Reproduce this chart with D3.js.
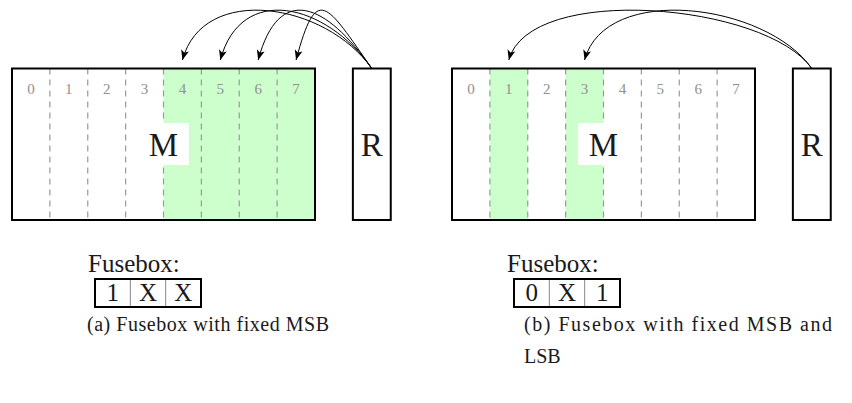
<!DOCTYPE html>
<html>
<head>
<meta charset="utf-8">
<script src="https://cdn.jsdelivr.net/npm/d3@7"></script>
<style>
  body { margin: 0; background: #fff; }
  text { font-family: "Liberation Serif", "DejaVu Serif", serif; fill: #1a1a1a; }
</style>
</head>
<body>
<script>
const width = 852
const height = 403

// données
const bits = [0, 1, 2, 3, 4, 5, 6, 7]
const panels = ['a', 'b']
const highlighted = [[4, 5, 6, 7], [1, 3]]
const fuses = [['1', 'X', 'X'], ['0', 'X', '1']]
const captions = [
    ['(a) Fusebox with fixed MSB'],
    ['(b) Fusebox with fixed MSB and', 'LSB']
]

const U = 37.875 // une case
const GREEN = '#ccffcc'

const svg = d3.select('body').append('svg')
    .attr('width', width)
    .attr('height', height)

svg.append('defs').append('marker')
    .attr('id', 'head')
    .attr('viewBox', '0 0 10 8')
    .attr('refX', 10)
    .attr('refY', 4)
    .attr('markerWidth', 11)
    .attr('markerHeight', 8)
    .attr('markerUnits', 'userSpaceOnUse')
    .attr('orient', 'auto')
    .append('path')
    .attr('d', 'M0,0 L10,4 L0,8 L2.5,4 Z')
    .attr('fill', '#000')

const panelX = d3.scaleOrdinal().domain(panels).range([12, 452])
// en bas : la fusebox et sa légende
const boxX = d3.scaleOrdinal().domain(panels).range([95, 514])
const capX = d3.scaleOrdinal().domain(panels).range([87, 524])

panels.forEach((p, pi) => {
    const x0 = panelX(p)
    const x = d3.scaleBand().domain(bits).range([x0, x0 + 8 * U])
    const yTop = 220 - 4 * U
    const g = svg.append('g')

    // cases en vert
    g.selectAll('rect.hl')
        .data(highlighted[pi])
        .enter()
        .append('rect')
        .attr('x', d => x(d))
        .attr('y', yTop)
        .attr('width', x.bandwidth())
        .attr('height', 4 * U)
        .attr('fill', GREEN)

    // traits pointillés
    g.selectAll('line.sep')
        .data(bits.slice(1))
        .enter()
        .append('line')
        .attr('x1', d => x(d))
        .attr('x2', d => x(d))
        .attr('y1', yTop)
        .attr('y2', 220)
        .attr('stroke', '#999')
        .attr('stroke-width', 1.2)
        .attr('stroke-dasharray', '6,5')

    // numéros
    g.selectAll('text.num')
        .data(bits)
        .enter()
        .append('text')
        .attr('x', d => x(d) + x.bandwidth() / 2)
        .attr('y', 94)
        .attr('text-anchor', 'middle')
        .attr('font-size', 15)
        .style('fill', '#909090')
        .text(d => d)

    // M avec fond blanc
    const mx = x0 + 4 * U
    g.append('rect')
        .attr('x', mx - 25.5)
        .attr('y', 123)
        .attr('width', 51)
        .attr('height', 42)
        .attr('fill', '#fff')
    g.append('text')
        .attr('x', mx)
        .attr('y', 156)
        .attr('text-anchor', 'middle')
        .attr('font-size', 33)
        .text('M')

    g.append('rect')
        .attr('x', x0)
        .attr('y', yTop)
        .attr('width', 8 * U)
        .attr('height', 4 * U)
        .attr('fill', 'none')
        .attr('stroke', '#000')
        .attr('stroke-width', 2)

    // R
    const rx = x0 + 9 * U
    g.append('rect')
        .attr('x', rx)
        .attr('y', yTop)
        .attr('width', U)
        .attr('height', 4 * U)
        .attr('fill', 'none')
        .attr('stroke', '#000')
        .attr('stroke-width', 2)
    g.append('text')
        .attr('x', rx + U / 2)
        .attr('y', 156)
        .attr('text-anchor', 'middle')
        .attr('font-size', 33)
        .text('R')

    // flèches
    const sx = rx + U / 2
    const sy = yTop
    const L = 80
    const a1 = 125 * Math.PI / 180
    const a2 = 75 * Math.PI / 180
    g.selectAll('path.arr')
        .data(highlighted[pi])
        .enter()
        .append('path')
        .attr('d', d => {
            const tx = x(d) + x.bandwidth() / 2
            const ty = 60
            const path = d3.path()
            path.moveTo(sx, sy)
            path.bezierCurveTo(
                sx + L * Math.cos(a1), sy - L * Math.sin(a1),
                tx + L * Math.cos(a2), ty - L * Math.sin(a2),
                tx, ty)
            return path.toString()
        })
        .attr('fill', 'none')
        .attr('stroke', '#000')
        .attr('stroke-width', 1)
        .attr('marker-end', 'url(#head)')

    // Fusebox
    const bx = boxX(p)
    const bw = 106
    g.append('text')
        .attr('x', bx - 7)
        .attr('y', 272)
        .attr('font-size', 25)
        .text('Fusebox:')

    const fy = 279
    const fh = 28
    const fx = d3.scaleBand().domain(d3.range(3)).range([bx, bx + bw])
    g.selectAll('line.fsep')
        .data([1, 2])
        .enter()
        .append('line')
        .attr('x1', d => fx(d))
        .attr('x2', d => fx(d))
        .attr('y1', fy)
        .attr('y2', fy + fh)
        .attr('stroke', '#888')
        .attr('stroke-width', 1)
    g.append('rect')
        .attr('x', fx(0))
        .attr('y', fy)
        .attr('width', bw)
        .attr('height', fh)
        .attr('fill', 'none')
        .attr('stroke', '#000')
        .attr('stroke-width', 2)
    g.selectAll('text.fuse')
        .data(fuses[pi])
        .enter()
        .append('text')
        .attr('x', (d, i) => fx(i) + fx.bandwidth() / 2)
        .attr('y', fy + fh - 6)
        .attr('text-anchor', 'middle')
        .attr('font-size', 25)
        .text(d => d)
})

// légendes
svg.append('text')
    .attr('x', capX('a'))
    .attr('y', 331)
    .attr('font-size', 20)
    .attr('textLength', 242)
    .attr('lengthAdjust', 'spacing')
    .text(captions[0][0])

svg.append('text')
    .attr('x', capX('b'))
    .attr('y', 331)
    .attr('font-size', 20)
    .attr('textLength', 308)
    .attr('lengthAdjust', 'spacing')
    .text(captions[1][0])
svg.append('text')
    .attr('x', capX('b'))
    .attr('y', 363)
    .attr('font-size', 20)
    .text(captions[1][1])
</script>
</body>
</html>
